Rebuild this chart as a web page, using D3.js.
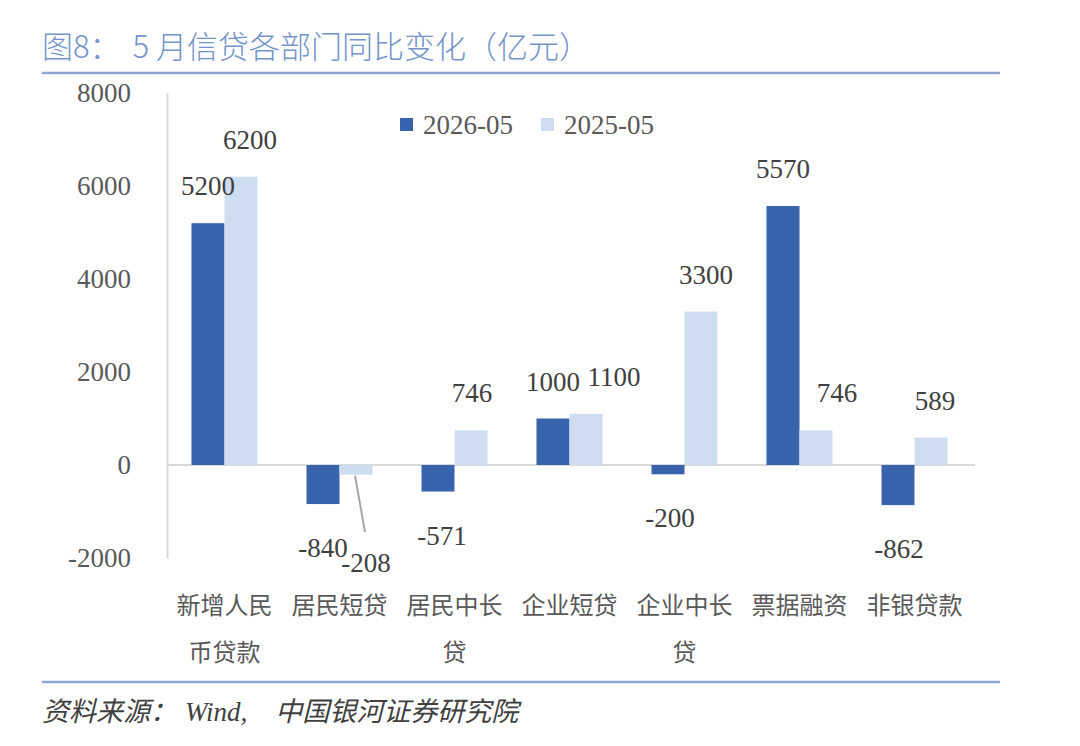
<!DOCTYPE html>
<html>
<head>
<meta charset="utf-8">
<script src="https://cdn.jsdelivr.net/npm/d3@7"></script>
<style>
  body { margin: 0; background: #fff; }
  svg { display: block; }
</style>
</head>
<body>
<svg id="chart" width="1080" height="746"></svg>
<script>
// 数据
const categories = ['新增人民币贷款', '居民短贷', '居民中长贷', '企业短贷', '企业中长贷', '票据融资', '非银贷款'];
const seriesNames = ['2026-05', '2025-05'];
const values2026 = [5200, -840, -571, 1000, -200, 5570, -862];
const values2025 = [6200, -208, 746, 1100, 3300, 746, 589];
const yTicks = [-2000, 0, 2000, 4000, 6000, 8000];

const colors = ['#3A63AD', '#CFDDF1'];
const cjk = '"Noto Sans CJK SC", "Noto Sans", sans-serif';
const numFont = '"Liberation Serif", "DejaVu Serif", serif';
const textColor = '#595959';

// 标签水平微调（避让），按 [系列][类别]
const labelShift = [
  [0, 0, 4, 0, 2, 0, 1],
  [9, 10, 1, 28, 5, 21, 4],
];

const svg = d3.select('#chart');

// 标题
const title = svg.append('text')
  .attr('x', 42).attr('y', 58)
  .attr('fill', '#7393CA')
  .attr('font-family', cjk)
  .attr('font-size', 31)
  .attr('font-weight', 300);
title.append('tspan').text('图8：');
title.append('tspan').attr('dx', 12).text('5 月信贷各部门同比变化（亿元）');
svg.append('line')
  .attr('x1', 42).attr('x2', 1000).attr('y1', 73).attr('y2', 73)
  .attr('stroke', '#8EA6D3').attr('stroke-width', 2.5);

const x0 = d3.scaleBand().domain(categories).range([167, 972]).paddingInner(0.426).paddingOuter(0.213);
const x1 = d3.scaleBand().domain(seriesNames).range([0, x0.bandwidth()]);
const y = d3.scaleLinear().domain([-2000, 8000]).range([558, 93]);

// y 轴
const yAxis = svg.append('g')
  .attr('transform', 'translate(167,0)')
  .call(d3.axisLeft(y).tickValues(yTicks).tickSize(0).tickPadding(36).tickFormat((d) => String(d)));
yAxis.select('.domain').attr('stroke', '#D9D9D9').attr('stroke-width', 2);
yAxis.selectAll('text')
  .attr('fill', textColor)
  .attr('font-family', numFont)
  .attr('font-size', 27);

// 零线
svg.append('line')
  .attr('x1', 167).attr('x2', 975)
  .attr('y1', y(0)).attr('y2', y(0))
  .attr('stroke', '#D9D9D9').attr('stroke-width', 2);

const rows = categories.map((c, i) => ({ cat: c, i, vals: [values2026[i], values2025[i]] }));

const groups = svg.append('g').selectAll('g')
  .data(rows)
  .join('g')
  .attr('transform', (d) => `translate(${x0(d.cat)},0)`);

groups.selectAll('rect')
  .data((d) => d.vals.map((v, k) => ({ v, k, name: seriesNames[k] })))
  .join('rect')
  .attr('x', (d) => x1(d.name))
  .attr('width', x1.bandwidth())
  .attr('y', (d) => y(Math.max(0, d.v)))
  .attr('height', (d) => Math.abs(y(d.v) - y(0)))
  .attr('fill', (d) => colors[d.k]);

// 数据标签
groups.selectAll('text.val')
  .data((d) => d.vals.map((v, k) => ({ v, k, i: d.i, name: seriesNames[k], cat: d.cat })))
  .join('text')
  .attr('class', 'val')
  .attr('text-anchor', 'middle')
  .attr('fill', '#404040')
  .attr('font-family', numFont)
  .attr('font-size', 27)
  .attr('x', (d) => x1(d.name) + x1.bandwidth() / 2 + labelShift[d.k][d.i])
  .attr('y', (d) => {
    if (d.cat === '居民短贷' && d.k === 1) return 572;
    return d.v >= 0 ? y(d.v) - 28 : y(d.v) + 53;
  })
  .text((d) => d.v);

// -208 引导线
const ci = categories.indexOf('居民短贷');
const lx = x0(categories[ci]) + x1(seriesNames[1]) + x1.bandwidth() / 2;
svg.append('line')
  .attr('x1', lx - 1).attr('y1', y(values2025[ci]) + 1)
  .attr('x2', lx + 9).attr('y2', 532)
  .attr('stroke', '#A6A6A6').attr('stroke-width', 2);

// x 轴标签（每行 4 字）
const catG = svg.append('g').selectAll('text')
  .data(categories)
  .join('text')
  .attr('text-anchor', 'middle')
  .attr('fill', textColor)
  .attr('font-family', cjk)
  .attr('font-size', 24)
  .attr('x', (d) => x0(d) + x0.bandwidth() / 2);
catG.each((d, i, g) => {
  const t = d3.select(g[i]);
  const lines = d.length > 4 ? [d.slice(0, 4), d.slice(4)] : [d];
  lines.forEach((s, j) => {
    t.append('tspan')
      .attr('x', x0(d) + x0.bandwidth() / 2)
      .attr('y', 614 + j * 47)
      .text(s);
  });
});

// 图例
const legend = svg.append('g').selectAll('g')
  .data(seriesNames)
  .join('g')
  .attr('transform', (d, i) => `translate(${400 + i * 141},118)`);
legend.append('rect')
  .attr('width', 13).attr('height', 13)
  .attr('fill', (d, i) => colors[i]);
legend.append('text')
  .attr('x', 23).attr('y', 16)
  .attr('fill', textColor)
  .attr('font-family', numFont)
  .attr('font-size', 27)
  .text((d) => d);

// 底部
svg.append('line')
  .attr('x1', 42).attr('x2', 1000).attr('y1', 682).attr('y2', 682)
  .attr('stroke', '#8EA6D3').attr('stroke-width', 2.5);
const src = svg.append('text')
  .attr('x', 42).attr('y', 721)
  .attr('fill', '#404040')
  .attr('font-family', '"Liberation Serif", ' + cjk)
  .attr('font-style', 'italic')
  .attr('font-size', 27);
src.append('tspan').text('资料来源：');
src.append('tspan').attr('dx', 8).text('Wind,');
src.append('tspan').attr('dx', 28).text('中国银河证券研究院');
</script>
</body>
</html>
